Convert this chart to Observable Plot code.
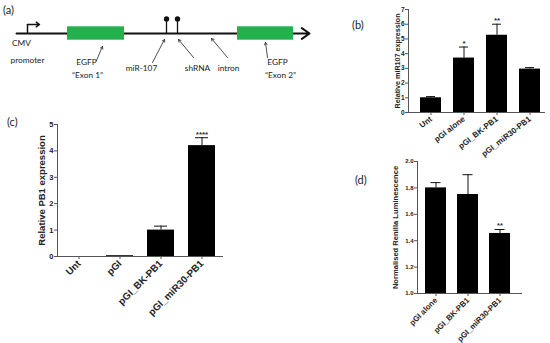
<!DOCTYPE html>
<html><head><meta charset="utf-8">
<script src="https://cdn.jsdelivr.net/npm/d3@7"></script>
<script src="https://cdn.jsdelivr.net/npm/@observablehq/plot@0.6"></script>
<style>
body{margin:0;background:#fff;}
#fig{position:relative;width:550px;height:343px;overflow:hidden;background:#fff;}
.panel{position:absolute;}
.tag{position:absolute;font-family:Lato,"Open Sans",sans-serif;font-size:11px;color:#222;line-height:1;}
</style></head><body><div id="fig"></div>
<script>
// ---------- panel (a): construct schematic ----------
const backbone = [{start: 16, end: 309, level: 0}];
const promoter = [{pos: 27, base: 0, rise: 9, reach: 39}];
const exons = [{name: "Exon 1", start: 67, end: 124, low: -6.7, high: 6.7}, {name: "Exon 2", start: 237, end: 293, low: -6.7, high: 6.7}];
const hairpins = [{name: "miR-107", pos: 166, base: 0, tip: 12, head: 14.5}, {name: "shRNA", pos: 177, base: 0, tip: 12, head: 14.5}];
const schematicLabels = [
  {text: "CMV", x: 21, y: -10},
  {text: "promoter", x: 27, y: -27},
  {text: "EGFP", x: 86, y: -29},
  {text: "\u201CExon 1\u201D", x: 87, y: -42},
  {text: "miR-107", x: 141, y: -35},
  {text: "shRNA", x: 197, y: -35},
  {text: "intron", x: 228, y: -35},
  {text: "EGFP", x: 277, y: -29},
  {text: "\u201CExon 2\u201D", x: 280, y: -42}
];
const pointers = [
  {x1: 96, y1: -27, x2: 102, y2: -13},
  {x1: 152, y1: -29, x2: 164, y2: -6},
  {x1: 193, y1: -24, x2: 178, y2: -6},
  {x1: 227, y1: -24, x2: 211, y2: -5},
  {x1: 267, y1: -24, x2: 265, y2: -9}
];

// ---------- panel (b) ----------
const bCategories = ["Unt", "pGI alone", "pGI_BK-PB1", "pGI_miR30-PB1"];
const bValues = [1.0, 3.7, 5.25, 2.95];
const bErrors = [0.08, 0.75, 0.75, 0.1];
const bStars = ["", "*", "**", ""];
const bTicks = [0, 1, 2, 3, 4, 5, 6, 7];
const bLabel = "Relative miR107 expression";

// ---------- panel (c) ----------
const cCategories = ["Unt", "pGI", "pGI_BK-PB1", "pGI_miR30-PB1"];
const cValues = [0.0, 0.03, 1.0, 4.2];
const cErrors = [0, 0, 0.15, 0.3];
const cStars = ["", "", "", "****"];
const cTicks = [0, 1, 2, 3, 4, 5];
const cLabel = "Relative PB1 expression";

// ---------- panel (d) ----------
const dCategories = ["pGI alone", "pGI_BK-PB1", "pGI_miR30-PB1"];
const dValues = [1.8, 1.75, 1.455];
const dErrors = [0.04, 0.15, 0.03];
const dStars = ["", "", "**"];
const dTicks = [1.0, 1.2, 1.4, 1.6, 1.8, 2.0];
const dLabel = "Normalised Renilla Luminescence";

const fig = document.getElementById("fig");
function place(node, left, top) {
  const wrap = document.createElement("div");
  wrap.className = "panel";
  wrap.style.left = left + "px";
  wrap.style.top = top + "px";
  wrap.appendChild(node);
  fig.appendChild(wrap);
}
function tag(text, left, top) {
  const t = document.createElement("div");
  t.className = "tag";
  t.textContent = text;
  t.style.left = left + "px";
  t.style.top = top + "px";
  fig.appendChild(t);
}

const green = "#22b14c";
const schematic = Plot.plot({
  width: 340, height: 110, margin: 0,
  style: {fontFamily: "Lato, 'Open Sans', sans-serif", background: "transparent", color: "#222"},
  x: {domain: [0, 340], axis: null},
  y: {domain: [-77, 33], axis: null},
  marks: [
    Plot.arrow(backbone, {x1: "start", x2: "end", y1: "level", y2: "level", stroke: "#111", strokeWidth: 2, headLength: 7, headAngle: 70}),
    Plot.ruleX(promoter, {x: "pos", y1: "base", y2: "rise", stroke: "#111", strokeWidth: 1.5}),
    Plot.arrow(promoter, {x1: "pos", x2: "reach", y1: "rise", y2: "rise", stroke: "#111", strokeWidth: 1.5, headLength: 5, headAngle: 70}),
    Plot.rect(exons, {x1: "start", x2: "end", y1: "low", y2: "high", fill: green}),
    Plot.ruleX(hairpins, {x: "pos", y1: "base", y2: "tip", stroke: "#111", strokeWidth: 1.3}),
    Plot.dot(hairpins, {x: "pos", y: "head", r: 2.7, fill: "#111", stroke: "none"}),
    Plot.arrow(pointers, {x1: "x1", y1: "y1", x2: "x2", y2: "y2", stroke: "#222", strokeWidth: 0.8, headLength: 5, headAngle: 60}),
    Plot.text(schematicLabels, {x: "x", y: "y", text: "text", textAnchor: "middle", fontSize: 8.3, fill: "#222"})
  ]
});
place(schematic, 0, 0);

function barPanel(o) {
  const rows = o.cats.map((c, i) => ({cat: c, v: o.vals[i], e: o.errs[i], top: o.vals[i] + o.errs[i], star: o.stars[i], base: o.base}));
  const withErr = rows.filter(d => d.e > 0);
  return Plot.plot({
    width: o.width, height: o.height,
    marginLeft: o.ml, marginRight: o.mr, marginTop: o.mt, marginBottom: o.mb,
    style: {fontFamily: "'Liberation Sans', Arial, sans-serif", fontWeight: "bold", background: "transparent", color: "#111"},
    x: {domain: o.cats, paddingInner: 0.35, paddingOuter: o.po, align: o.align, label: null},
    y: {domain: o.domain, label: null},
    marks: [
      Plot.ruleX(withErr, {x: "cat", y1: "v", y2: "top", stroke: "#111", strokeWidth: 1}),
      Plot.tickY(withErr, {x: "cat", y: "top", stroke: "#111", strokeWidth: 1, insetLeft: o.cap, insetRight: o.cap}),
      Plot.barY(rows, {x: "cat", y1: "base", y2: "v", fill: "#000"}),
      Plot.frame({anchor: "left", stroke: "#555"}),
      Plot.ruleY([o.base], {stroke: "#555"}),
      Plot.text(rows, {x: "cat", y: "top", text: "star", lineAnchor: "bottom", dy: -1, fontSize: o.starSize, fill: "#333"}),
      Plot.axisY({ticks: o.ticks, tickFormat: o.fmt, tickSize: 3, tickPadding: 1, fontSize: o.yFont, stroke: "#555", fill: "#222", label: null}),
      Plot.axisX({tickSize: 3, tickPadding: 2.5, tickRotate: o.rot, fontSize: o.xFont, stroke: "#555", fill: "#222", label: null}),
      Plot.text([o.label], {text: d => d, frameAnchor: "left", rotate: -90, dx: -o.labelOffset, lineAnchor: "top", textAnchor: "middle", fontSize: o.labelFont, fill: "#222"})
    ]
  });
}

place(barPanel({cats: bCategories, vals: bValues, errs: bErrors, stars: bStars, ticks: bTicks, fmt: d3.format("d"),
  base: 0, domain: [0, 7], width: 210, height: 175, ml: 68, mr: 5, mt: 9, mb: 63, po: 0.21, align: 0.71,
  cap: 6, starSize: 8, yFont: 6.5, xFont: 8, rot: -38, label: bLabel, labelOffset: 14, labelFont: 7.2}), 340, 0);

place(barPanel({cats: cCategories, vals: cValues, errs: cErrors, stars: cStars, ticks: cTicks, fmt: d3.format("d"),
  base: 0, domain: [0, 5], width: 240, height: 233, ml: 57, mr: 17, mt: 14, mb: 87, po: 0.16, align: 0.5,
  cap: 7, starSize: 8, yFont: 7.5, xFont: 9.8, rot: -45, label: cLabel, labelOffset: 19, labelFont: 9.5}), 0, 110);

place(barPanel({cats: dCategories, vals: dValues, errs: dErrors, stars: dStars, ticks: dTicks, fmt: d3.format(".1f"),
  base: 1, domain: [1, 2], width: 200, height: 193, ml: 67, mr: 28, mt: 11, mb: 50, po: 0.295, align: 0.39,
  cap: 5.5, starSize: 7.5, yFont: 6, xFont: 7.8, rot: -45, label: dLabel, labelOffset: 25, labelFont: 7.6}), 350, 150);

tag("(a)", 3, 4);
tag("(b)", 352, 19);
tag("(c)", 7, 116);
tag("(d)", 355, 174);
</script></body></html>
